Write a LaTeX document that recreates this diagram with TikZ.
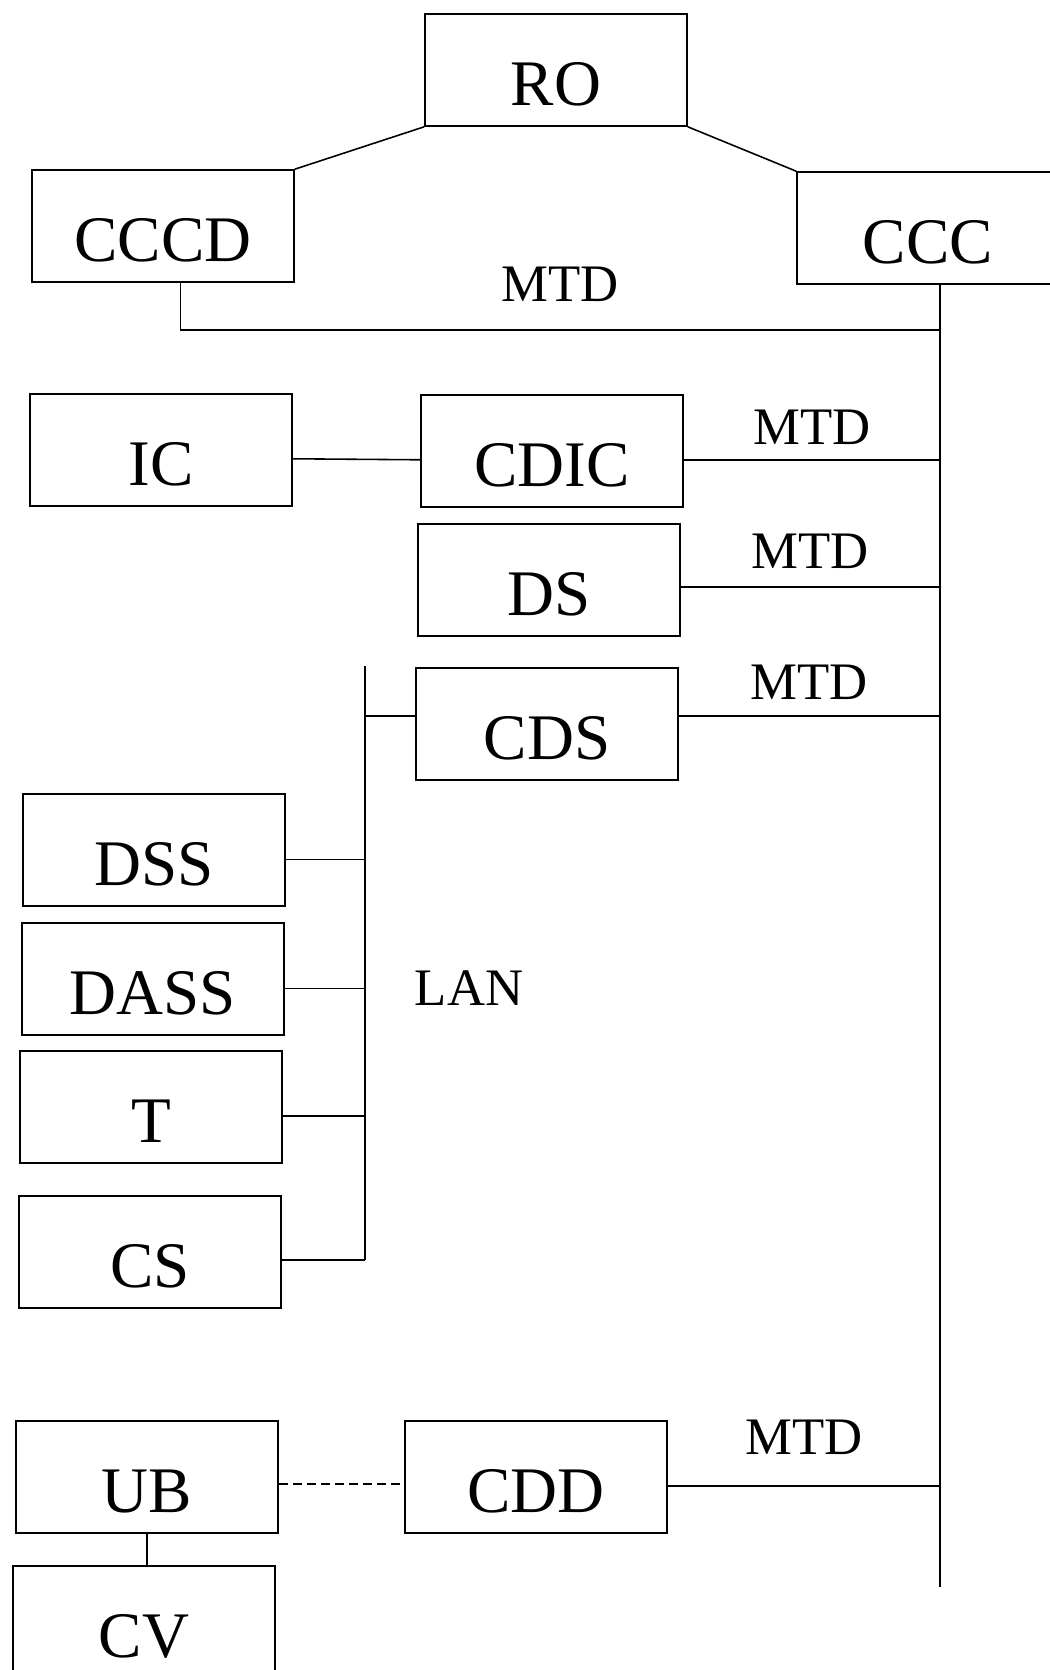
\documentclass[tikz,border=0pt]{standalone}
\usepackage{fontspec}
\setmainfont{Liberation Serif}
\usetikzlibrary{positioning}

\begin{document}
\begin{tikzpicture}[
    x=0.02cm, y=-0.02cm,
    every node/.style={font=\fontsize{37}{40}\selectfont},
    box/.style={draw, line width=0.9pt, minimum width=5.24cm, minimum height=2.24cm, inner sep=0pt, text height=1.42cm},
    link/.style={line width=0.9pt},
    low/.style={transform canvas={yshift=#1}},
    dashlink/.style={line width=0.9pt, dashed, dash pattern=on 5pt off 3pt},
    tag/.style={font=\fontsize{30}{32}\selectfont, inner sep=0pt},
]
\useasboundingbox (0,0) rectangle (1049,1670);
\node[box] (RO) at (556,70) {RO};
\node[box] (CCCD) at (163,226) {CCCD};
\node[box] (CCC) at (928,228) {CCC};
\node[box] (IC) at (161,450) {IC};
\node[box] (CDIC) at (552,451) {CDIC};
\node[box] (DS) at (549,580) {DS};
\node[box] (CDS) at (547,724) {CDS};
\node[box] (DSS) at (154,850) {DSS};
\node[box] (DASS) at (153,979) {DASS};
\node[box] (T) at (151,1107) {T};
\node[box] (CS) at (150,1252) {CS};
\node[box] (UB) at (147,1477) {UB};
\node[box] (CDD) at (536,1477) {CDD};
\node[box] (CV) at (144,1622) {CV};
\coordinate (mtdtop) at (940,285);
\coordinate (mtdjoin) at (940,330);
\coordinate (mtdbot) at (940,1587);
\coordinate (lantop) at (365,666);
\coordinate (lanbot) at (365,1260);
\draw[link] (RO.south west) -- (CCCD.north east);
\draw[link] (RO.south east) -- (CCC.north west);
\draw[link] (mtdtop) -- (mtdbot);
\draw[link] ([xshift=10pt]CCCD.south) |- node[tag, pos=0.75, above=15.5pt] (mtd_0) {MTD} (mtdjoin);
\draw[link, low=-5pt] (IC.east) -- (CDIC.west);
\draw[link, low=-5pt] (CDIC.east) -- node[tag, above=8pt] (mtd_1) {MTD} (CDIC.east -| mtdtop);
\draw[link, low=-4pt] (DS.east) -- node[tag, above=10pt] (mtd_2) {MTD} (DS.east -| mtdtop);
\draw[link, low=4.5pt] (CDS.east) -- node[tag, above=9pt] (mtd_3) {MTD} (CDS.east -| mtdtop);
\draw[link, low=-5pt] (CDD.east) -- node[tag, above=17.5pt] (mtd_4) {MTD} (CDD.east -| mtdtop);
\draw[link] (lantop) -- (lanbot);
\draw[link, low=4.5pt] (CDS.west) -- (CDS.west -| lantop);
\draw[link, low=-5.5pt] (DSS.east) -- (DSS.east -| lantop);
\draw[link, low=-5.5pt] (DASS.east) -- (DASS.east -| lantop);
\draw[link, low=-5pt] (T.east) -- (T.east -| lantop);
\draw[link] (CS.east |- lanbot) -- (lanbot);
\node[tag] (lan) at (469,988) {LAN};
\draw[dashlink, low=-4pt] (UB.east) -- (CDD.west);
\draw[link] (UB.south) -- (UB.south |- CV.north);
\end{tikzpicture}
\end{document}
